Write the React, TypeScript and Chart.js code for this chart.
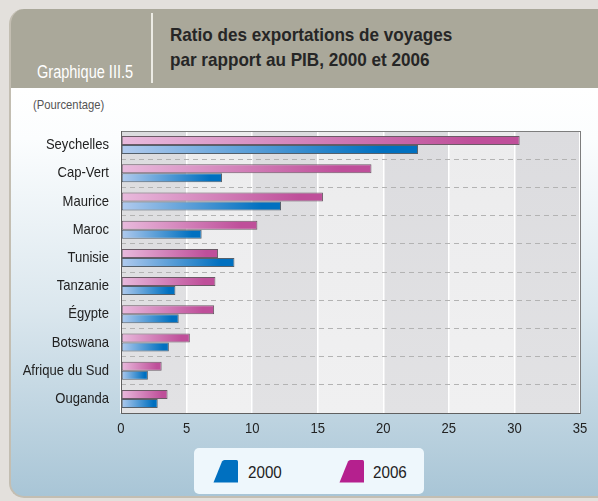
import React, { useEffect, useRef } from "react";
import { Chart, registerables } from "chart.js";

Chart.register(...registerables);

const categories = [
  "Seychelles",
  "Cap-Vert",
  "Maurice",
  "Maroc",
  "Tunisie",
  "Tanzanie",
  "Égypte",
  "Botswana",
  "Afrique du Sud",
  "Ouganda",
];
const values2000 = [22.65, 7.7, 12.2, 6.15, 8.65, 4.15, 4.4, 3.65, 2.05, 2.8];
const values2006 = [30.4, 19.1, 15.4, 10.4, 7.4, 7.2, 7.1, 5.25, 3.1, 3.55];
const seriesLabels = ["2000", "2006"];
const xTicks = [0, 5, 10, 15, 20, 25, 30, 35];
const titleLines = ["Ratio des exportations de voyages", "par rapport au PIB, 2000 et 2006"];
const chartNumber = "Graphique III.5";
const unitLabel = "(Pourcentage)";

const BLUE_LIGHT = "#b2cbee";
const BLUE_DARK = "#0070c0";
const PINK_LIGHT = "#e9bbdd";
const PINK_DARK = "#bf4f9a";
const FONT = '"Liberation Sans", Arial, sans-serif';
const CONDENSE = 0.87;

function barGradient(context: any, light: string, dark: string) {
  const chart = context.chart;
  const x = chart.scales && chart.scales.x;
  if (!x || !chart.chartArea) return dark;
  const v = context.raw;
  if (typeof v !== "number") return dark;
  const x0 = x.getPixelForValue(0);
  const x1 = x.getPixelForValue(v);
  if (!isFinite(x0) || !isFinite(x1) || x1 - x0 < 1) return dark;
  const g = chart.ctx.createLinearGradient(x0, 0, x1, 0);
  g.addColorStop(0, light);
  g.addColorStop(0.88, dark);
  g.addColorStop(1, dark);
  return g;
}

function condensedText(ctx: any, text: string, x: number, y: number, align: "left" | "right" | "center") {
  ctx.save();
  ctx.translate(x, y);
  ctx.scale(CONDENSE, 1);
  ctx.textAlign = align;
  ctx.textBaseline = "middle";
  ctx.fillText(text, 0, 0);
  ctx.restore();
}

const bandsPlugin = {
  id: "bands",
  beforeDraw(chart: any) {
    const { ctx, chartArea, scales } = chart;
    if (!chartArea) return;
    const { top, bottom } = chartArea;
    const x = scales.x;
    ctx.save();
    for (let i = 0; i < xTicks.length - 1; i++) {
      const a = x.getPixelForValue(xTicks[i]);
      const b = x.getPixelForValue(xTicks[i + 1]);
      const g = ctx.createLinearGradient(0, top, 0, bottom);
      if (i % 2 === 0) {
        g.addColorStop(0, "#dcdcdf");
        g.addColorStop(1, "#e2e2e4");
      } else {
        g.addColorStop(0, "#ececed");
        g.addColorStop(1, "#f0f0f1");
      }
      ctx.fillStyle = g;
      ctx.fillRect(a, top, b - a, bottom - top);
    }
    ctx.restore();
  },
  afterDraw(chart: any) {
    const { ctx, chartArea, scales } = chart;
    if (!chartArea) return;
    const { left, right, top, bottom } = chartArea;
    ctx.save();
    ctx.strokeStyle = "#7d7d7d";
    ctx.lineWidth = 1;
    ctx.strokeRect(Math.round(left) + 0.5, Math.round(top) + 0.5, Math.round(right - left), Math.round(bottom - top));
    ctx.strokeStyle = "#606060";
    ctx.beginPath();
    ctx.moveTo(Math.round(left) + 0.5, top);
    ctx.lineTo(Math.round(left) + 0.5, bottom + 0.5);
    ctx.lineTo(right, bottom + 0.5);
    ctx.stroke();

    // tick labels (condensed type, as in the original)
    ctx.fillStyle = "#222";
    ctx.font = `15px ${FONT}`;
    const y = scales.y;
    y.ticks.forEach((t: any, i: number) => {
      const label = y.getLabelForValue(t.value);
      condensedText(ctx, label, left - 12, y.getPixelForTick(i), "right");
    });
    const x = scales.x;
    x.ticks.forEach((t: any, i: number) => {
      condensedText(ctx, String(t.value), x.getPixelForTick(i), bottom + 16, "center");
    });
    ctx.restore();
  },
};

function BarChart() {
  const ref = useRef<HTMLCanvasElement | null>(null);
  useEffect(() => {
    if (!ref.current) return;
    const chart = new Chart(ref.current, {
      type: "bar",
      data: {
        labels: categories,
        datasets: [
          {
            label: seriesLabels[1],
            data: values2006,
            backgroundColor: (c: any) => barGradient(c, PINK_LIGHT, PINK_DARK),
            borderColor: "#6b5a66",
            borderWidth: 1,
            borderSkipped: false,
            categoryPercentage: 0.64,
            barPercentage: 1,
          },
          {
            label: seriesLabels[0],
            data: values2000,
            backgroundColor: (c: any) => barGradient(c, BLUE_LIGHT, BLUE_DARK),
            borderColor: "#55606b",
            borderWidth: 1,
            borderSkipped: false,
            categoryPercentage: 0.64,
            barPercentage: 1,
          },
        ],
      },
      options: {
        indexAxis: "y",
        animation: false,
        responsive: false,
        maintainAspectRatio: false,
        layout: { padding: { left: 0, top: 131, right: 18, bottom: 0 } },
        plugins: {
          legend: { display: false },
          tooltip: { enabled: false },
        },
        scales: {
          x: {
            type: "linear",
            min: 0,
            max: 35,
            afterBuildTicks: (scale: any) => {
              scale.ticks = xTicks.map((v) => ({ value: v }));
            },
            afterFit: (scale: any) => {
              scale.height = 88;
            },
            ticks: { display: false },
            grid: { color: "#ffffff", lineWidth: 1.5, drawTicks: false },
            border: { display: false },
          },
          y: {
            type: "category",
            afterFit: (scale: any) => {
              scale.width = 121;
            },
            ticks: { display: false },
            grid: {
              color: "#b3b3b3",
              lineWidth: 1,
              drawTicks: false,
              offset: true,
            },
            border: { display: false, dash: [5, 4] },
          },
        },
      },
      plugins: [bandsPlugin],
    } as any);
    return () => chart.destroy();
  }, []);
  return (
    <canvas
      ref={ref}
      width={598}
      height={501}
      style={{ position: "absolute", left: 0, top: 0, width: 598, height: 501 }}
    />
  );
}

function Trapezoid({ color }: { color: string }) {
  return (
    <svg width={27} height={25} viewBox="0 0 27 25" style={{ display: "block" }}>
      <path d="M1.5 23.5 L10 2.5 Q10.8 1 12.5 1 L24.5 1 Q26 1 26 2.5 L26 23.5 Z" fill={color} />
    </svg>
  );
}

const condensed = (scale: number): React.CSSProperties => ({
  display: "inline-block",
  transform: `scaleX(${scale})`,
  transformOrigin: "left center",
  whiteSpace: "nowrap",
});

export default function App() {
  return (
    <div
      style={{
        position: "absolute",
        left: 0,
        top: 0,
        width: 598,
        height: 501,
        overflow: "hidden",
        background: "#e3e0dc",
        fontFamily: FONT,
      }}
    >
      <div
        style={{
          position: "absolute",
          left: 9,
          top: 9,
          width: 620,
          height: 489,
          borderRadius: 15,
          overflow: "hidden",
          borderLeft: "2px solid #c3beb2",
          borderBottom: "2px solid #c3beb2",
          boxSizing: "border-box",
          background:
            "linear-gradient(to bottom, #aaa89a 0px, #aaa89a 79px, #ffffff 79px, #fbfdfe 130px, #dbe7ee 300px, #a8c5d6 489px)",
        }}
      />
      <div
        style={{
          position: "absolute",
          left: 37,
          top: 61,
          height: 22,
          lineHeight: "22px",
          fontSize: 17.5,
          color: "#ffffff",
        }}
      >
        <span style={condensed(0.83)}>{chartNumber}</span>
      </div>
      <div style={{ position: "absolute", left: 151, top: 13, width: 2, height: 70, background: "#ecebe4" }} />
      {titleLines.map((t, i) => (
        <div
          key={i}
          style={{
            position: "absolute",
            left: 170,
            top: 24 + i * 25,
            height: 22,
            lineHeight: "22px",
            fontSize: 19,
            fontWeight: "bold",
            color: "#262626",
          }}
        >
          <span style={condensed(0.9)}>{t}</span>
        </div>
      ))}
      <div
        style={{
          position: "absolute",
          left: 33,
          top: 97,
          height: 16,
          lineHeight: "16px",
          fontSize: 13,
          color: "#555",
        }}
      >
        <span style={condensed(0.865)}>{unitLabel}</span>
      </div>
      <BarChart />
      <div
        style={{
          position: "absolute",
          left: 194,
          top: 448,
          width: 230,
          height: 46,
          borderRadius: 5,
          background: "#eef7fc",
        }}
      />
      <div style={{ position: "absolute", left: 212, top: 459 }}>
        <Trapezoid color="#0070c0" />
      </div>
      <div style={{ position: "absolute", left: 248, top: 461, height: 22, lineHeight: "22px", fontSize: 16.5, color: "#222" }}>
        <span style={condensed(0.92)}>{seriesLabels[0]}</span>
      </div>
      <div style={{ position: "absolute", left: 338, top: 459 }}>
        <Trapezoid color="#b5208e" />
      </div>
      <div style={{ position: "absolute", left: 373, top: 461, height: 22, lineHeight: "22px", fontSize: 16.5, color: "#222" }}>
        <span style={condensed(0.92)}>{seriesLabels[1]}</span>
      </div>
    </div>
  );
}
